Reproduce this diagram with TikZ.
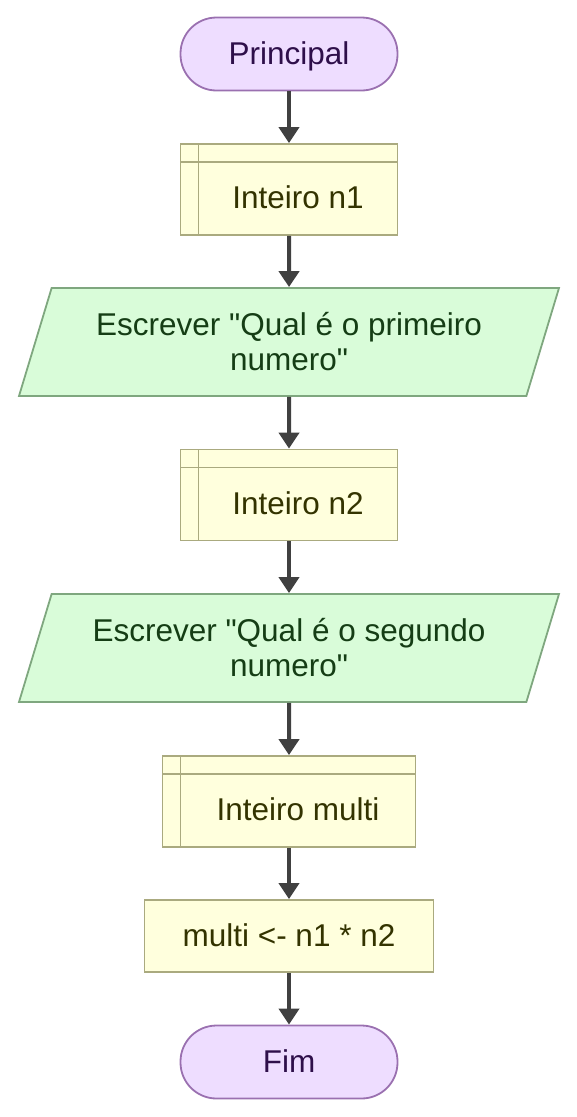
\documentclass[tikz,border=0pt]{standalone}
\usepackage{fontspec}
\setmainfont{Liberation Sans}
\usetikzlibrary{arrows.meta,shapes.geometric}
\definecolor{purfill}{HTML}{EEDDFF}
\definecolor{purbd}{HTML}{9A70B0}
\definecolor{purtxt}{HTML}{2E0F4A}
\definecolor{yelfill}{HTML}{FFFFDD}
\definecolor{yelbd}{HTML}{AAAA7F}
\definecolor{yeltxt}{HTML}{333300}
\definecolor{grnfill}{HTML}{D9FCD9}
\definecolor{grnbd}{HTML}{7FA77F}
\definecolor{grntxt}{HTML}{153D15}
\definecolor{arrgray}{HTML}{404040}
\tikzset{
  every node/.style={font=\fontsize{31.5}{35}\selectfont},
  oneline/.style={text height=24pt,text depth=4pt},
  term/.style={oneline,draw=purbd,fill=purfill,text=purtxt,line width=1.8pt,rounded corners=36pt,minimum width=217pt,minimum height=73pt},
  decl/.style={draw=yelbd,fill=yelfill,line width=1.8pt,minimum height=91pt,
    path picture={
      \draw[yelbd,line width=1.8pt] ([yshift=-18pt]path picture bounding box.north west) -- ([yshift=-18pt]path picture bounding box.north east);
      \draw[yelbd,line width=1.8pt] ([xshift=18pt]path picture bounding box.north west) -- ([xshift=18pt]path picture bounding box.south west);}},
  decltxt/.style={oneline,text=yeltxt},
  proc/.style={oneline,draw=yelbd,fill=yelfill,text=yeltxt,line width=1.8pt,minimum height=72pt},
  io/.style={trapezium,trapezium left angle=63.4,trapezium right angle=116.6,trapezium stretches body,
    draw=grnbd,fill=grnfill,text=grntxt,line width=1.8pt,minimum width=540pt,minimum height=108pt,align=center},
  arr/.style={draw=arrgray,line width=4pt,-{Triangle[width=20pt,length=16pt]}}
}
\begin{document}
\begin{tikzpicture}[x=1pt,y=-1pt]
\useasboundingbox (0,0) rectangle (577,1117);

\node[term] (prin) at (289,54) {Principal};
\node[decl,minimum width=217pt] (n1) at (289,189.5) {};
\node[decltxt] (n1t) at ([shift={(9pt,-9pt)}]n1.center) {Inteiro n1};
\node[io] (esc1) at (289,342) {Escrever \textquotedbl Qual é o primeiro\\numero\textquotedbl};
\node[decl,minimum width=217pt] (n2) at (289,495) {};
\node[decltxt] (n2t) at ([shift={(9pt,-9pt)}]n2.center) {Inteiro n2};
\node[io] (esc2) at (289,648) {Escrever \textquotedbl Qual é o segundo\\numero\textquotedbl};
\node[decl,minimum width=253pt] (mu) at (289,801.5) {};
\node[decltxt] (mut) at ([shift={(9pt,-9pt)}]mu.center) {Inteiro multi};
\node[proc,minimum width=289pt] (calc) at (289,936) {multi <- n1 * n2};
\node[term] (fim) at (289,1062) {Fim};

% fluxo
\draw[arr] (prin) -- (n1);
\draw[arr] (n1) -- (esc1);
\draw[arr] (esc1) -- (n2);
\draw[arr] (n2) -- (esc2);
\draw[arr] (esc2) -- (mu);
\draw[arr] (mu) -- (calc);
\draw[arr] (calc) -- (fim);
\end{tikzpicture}
\end{document}
